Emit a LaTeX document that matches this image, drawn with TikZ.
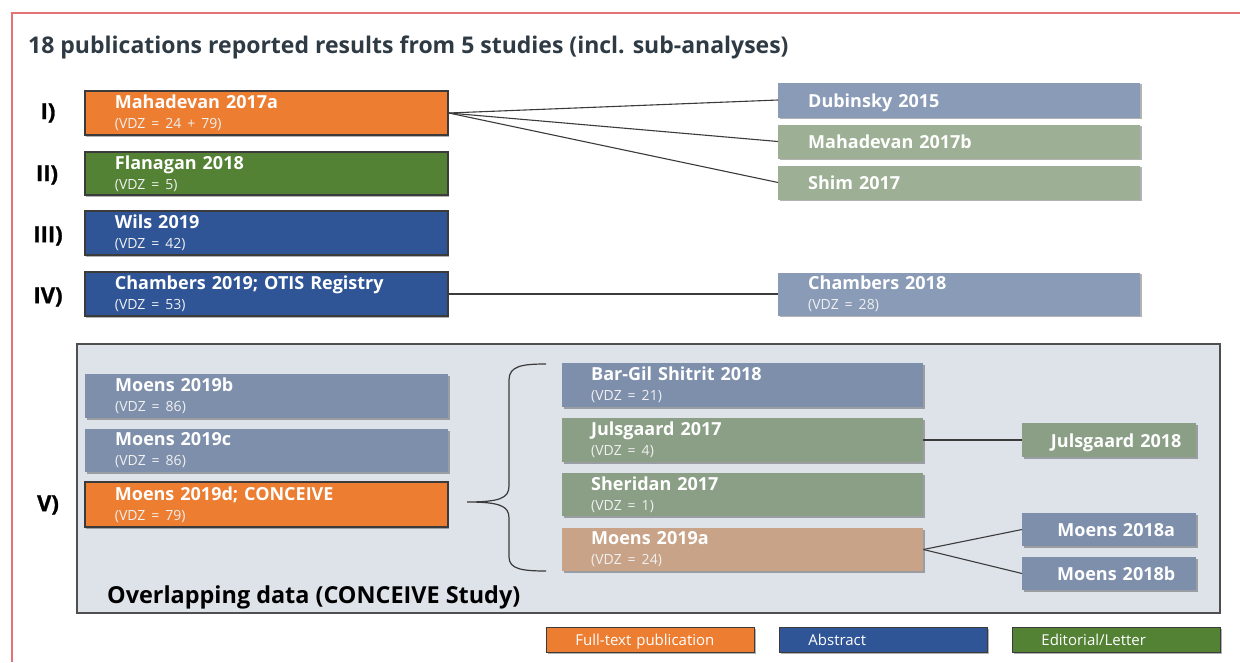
\documentclass[tikz,border=0pt]{standalone}
\usepackage{fontspec}
\setmainfont{Open Sans}
\usetikzlibrary{shadows}

\definecolor{fullorange}{HTML}{ED7D31}
\definecolor{letgreen}{HTML}{548235}
\definecolor{absblue}{HTML}{2F5597}
\definecolor{greyblue}{HTML}{8A9BB7}
\definecolor{greygreen}{HTML}{9DAF94}
\definecolor{innerblue}{HTML}{7E8FAC}
\definecolor{innergreen}{HTML}{8A9F85}
\definecolor{tanbox}{HTML}{C9A388}
\definecolor{panel}{HTML}{DEE2E9}
\definecolor{framered}{HTML}{E57373}
\definecolor{inkgrey}{HTML}{3B3B3B}
\definecolor{titlegrey}{HTML}{2E3A44}
\definecolor{subtext}{HTML}{F0F0F0}

% publication name and sample size inside a box
\newcommand\pubname[1]{{\bfseries #1}}
\newcommand\vdzline[1]{\\{\fontsize{14}{15.5}\selectfont\color{subtext}(VDZ = #1)}}

\tikzset{
  card/.style={rectangle, anchor=west, inner ysep=0pt, align=left, text=white,
    font=\fontsize{18}{20}\selectfont,
    drop shadow={shadow xshift=1.5pt, shadow yshift=-1.5pt, opacity=0.3, fill=black}},
  oneline/.style={text height=16pt, text depth=2pt},
  hard/.style={draw=inkgrey, line width=1.8pt},
  lcol/.style={card, inner xsep=30pt, text width=303pt},
  rcol/.style={card, inner xsep=30pt, text width=302pt},
  mcol/.style={card, inner xsep=29pt, text width=303pt},
  scol/.style={card, inner xsep=0pt, text width=174pt, align=center,
    text height=15pt, text depth=1pt,
    execute at begin node={\hspace*{14pt}}},
  legendbox/.style={rectangle, anchor=west, draw=inkgrey, line width=0.8pt,
    minimum height=25pt, inner xsep=29pt, inner ysep=0pt, text width=150pt,
    text height=13pt, text depth=2pt,
    align=left, text=white, font=\fontsize{15}{16}\selectfont,
    drop shadow={shadow xshift=1.5pt, shadow yshift=-1.5pt, opacity=0.3, fill=black}},
  roman/.style={font=\fontsize{22}{24}\selectfont\bfseries\addfontfeatures{FakeBold=1.2},
    text=black},
  link/.style={draw=inkgrey, line width=1.1pt},
}

\begin{document}
\begin{tikzpicture}[x=1pt, y=-1pt]
\useasboundingbox (0,0) rectangle (1240,662);
\fill[white] (0,0) rectangle (1240,662);

% outer frame
\draw[framered, line width=1.3pt] (12,662) -- (12,13) -- (1240,13);

% heading
\node[anchor=base west, inner sep=0pt, text=titlegrey,
      font=\fontsize{23}{27}\selectfont\bfseries] (heading) at (28,53)
  {18 publications reported results from 5 studies (incl. sub-analyses)};

% study labels
\node[roman] (r1) at (48,113) {I)};
\node[roman] (r2) at (47,175) {II)};
\node[roman] (r3) at (48,236) {III)};
\node[roman] (r4) at (48,297) {IV)};
\node[roman] (r5) at (48,505) {V)};

% studies I-IV
\node[lcol, hard, fill=fullorange, minimum height=44pt] (mah17a) at (84,113)
  {\pubname{Mahadevan 2017a}\vdzline{24 + 79}};
\node[lcol, hard, fill=letgreen, minimum height=43pt] (flan) at (84,173.5)
  {\pubname{Flanagan 2018}\vdzline{5}};
\node[lcol, hard, fill=absblue, minimum height=44pt] (wils) at (84,233)
  {\pubname{Wils 2019}\vdzline{42}};
\node[lcol, hard, fill=absblue, minimum height=44pt] (cham19) at (84,294)
  {\pubname{Chambers 2019; OTIS Registry}\vdzline{53}};

% related publications of studies I and IV
\node[rcol, oneline, fill=greyblue, minimum height=35pt] (dub) at (778,100)
  {\pubname{Dubinsky 2015}};
\node[rcol, oneline, fill=greygreen, minimum height=34pt] (mah17b) at (778,141.5)
  {\pubname{Mahadevan 2017b}};
\node[rcol, oneline, fill=greygreen, minimum height=34pt] (shim) at (778,182.5)
  {\pubname{Shim 2017}};
\node[rcol, fill=greyblue, minimum height=43pt] (cham18) at (778,294)
  {\pubname{Chambers 2018}\vdzline{28}};

\draw[link] (mah17a.east) -- (dub.west);
\draw[link] (mah17a.east) -- (mah17b.west);
\draw[link] (mah17a.east) -- (shim.west);
\draw[link] (cham19.east) -- (cham18.west);

% study V panel
\draw[draw=inkgrey!90, line width=1.2pt, fill=panel] (77,344) rectangle (1220,613);
\node[anchor=base west, inner sep=0pt, font=\fontsize{23.4}{27}\selectfont\bfseries,
      text=black] (overlap) at (107,603) {Overlapping data (CONCEIVE Study)};

\node[lcol, fill=innerblue, minimum height=44pt] (m19b) at (85,396)
  {\pubname{Moens 2019b}\vdzline{86}};
\node[lcol, fill=innerblue, minimum height=43pt] (m19c) at (85,450.5)
  {\pubname{Moens 2019c}\vdzline{86}};
\node[lcol, hard, fill=fullorange, minimum height=45pt] (m19d) at (84,504.5)
  {\pubname{Moens 2019d; CONCEIVE}\vdzline{79}};

\node[mcol, fill=innerblue, minimum height=44pt] (bargil) at (562,385)
  {\pubname{Bar-Gil Shitrit 2018}\vdzline{21}};
\node[mcol, fill=innergreen, minimum height=44pt] (juls17) at (562,440)
  {\pubname{Julsgaard 2017}\vdzline{4}};
\node[mcol, fill=innergreen, minimum height=43pt] (sher) at (562,494.5)
  {\pubname{Sheridan 2017}\vdzline{1}};
\node[mcol, fill=tanbox, minimum height=43pt] (m19a) at (562,549.5)
  {\pubname{Moens 2019a}\vdzline{24}};

\node[scol, fill=innergreen, minimum height=34pt] (juls18) at (1022,440)
  {\pubname{Julsgaard 2018}};
\node[scol, fill=innerblue, minimum height=33pt] (m18a) at (1022,529.5)
  {\pubname{Moens 2018a}};
\node[scol, fill=innerblue, minimum height=33pt] (m18b) at (1022,573.5)
  {\pubname{Moens 2018b}};

\draw[link] (juls17.east) -- (juls18.west);
\draw[link] (m19a.east) -- (m18a.west);
\draw[link] (m19a.east) -- (m18b.west);

% brace grouping the sub-analyses
\coordinate (bracetip) at (467,502);
\draw[link, line width=1.2pt]
  (546,364) .. controls (522,364) and (509,366) .. (509,380)
  -- (509,486) .. controls (509,498) and (500,502) .. (bracetip)
  (bracetip) .. controls (500,502) and (509,506) .. (509,518)
  -- (509,557) .. controls (509,569) and (522,571) .. (546,571);

% legend
\node[legendbox, fill=fullorange] (lgfull) at (546,639.5) {Full-text publication};
\node[legendbox, fill=absblue] (lgabs) at (779,639.5) {Abstract};
\node[legendbox, fill=letgreen] (lged) at (1012,639.5) {Editorial/Letter};
\end{tikzpicture}
\end{document}
